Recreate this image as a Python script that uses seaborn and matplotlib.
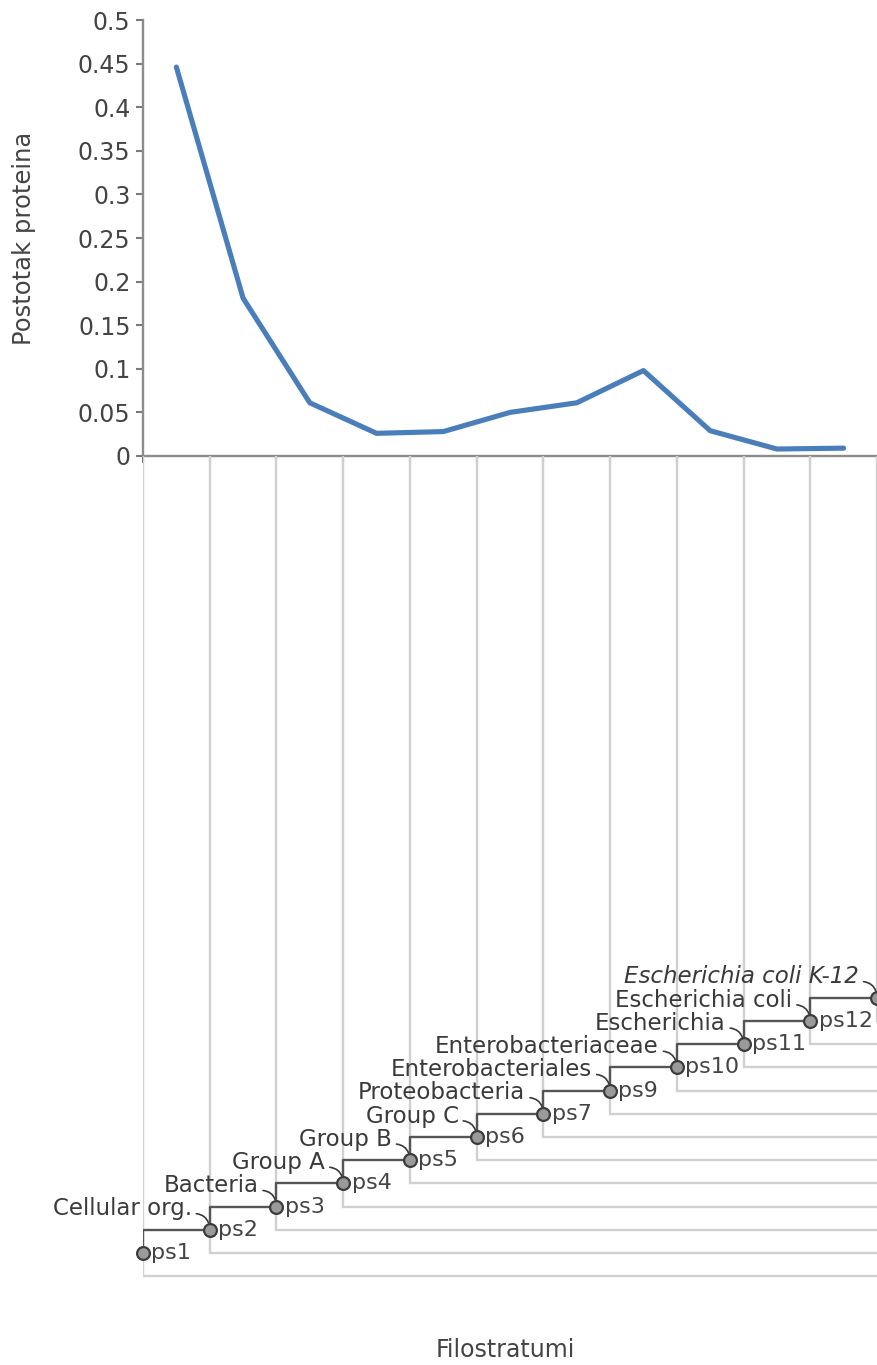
import numpy as np
import matplotlib
matplotlib.use("Agg")
import matplotlib.pyplot as plt
import seaborn as sns

# Phylostrata and the share of proteins assigned to each one
phylostrata = ["ps1", "ps2", "ps3", "ps4", "ps5", "ps6", "ps7", "ps9", "ps10", "ps11", "ps12"]
protein_share = [0.446, 0.181, 0.061, 0.026, 0.028, 0.050, 0.061, 0.098, 0.029, 0.008, 0.009]

# Clade names along the lineage, from the root towards the strain
clades = ["Cellular org.", "Bacteria", "Group A", "Group B", "Group C", "Proteobacteria",
          "Enterobacteriales", "Enterobacteriaceae", "Escherichia", "Escherichia coli",
          "Escherichia coli K-12"]

y_ticks = [0, 0.05, 0.1, 0.15, 0.2, 0.25, 0.3, 0.35, 0.4, 0.45, 0.5]

sns.set_theme(style="ticks")
plt.rcParams["font.family"] = ["DejaVu Sans"]

BLUE = "#4a7ebb"
AXIS = "#8c8c8c"
DARK = "#555555"
LIGHT = "#d0d0d0"
TEXT = "#3a3a3a"

W, H = 877, 1365
fig = plt.figure(figsize=(W / 100, H / 100), dpi=100, facecolor="white")


def px_rect(x0, y0, x1, y1):
    return [x0 / W, 1 - y1 / H, (x1 - x0) / W, (y1 - y0) / H]


n = len(phylostrata)

# ---- top panel: protein share per phylostratum ----
ax = fig.add_axes(px_rect(143, 20, 877, 456))
idx = np.arange(n)
sns.lineplot(x=idx, y=protein_share, ax=ax, color=BLUE, linewidth=3.7)
ax.set_xlim(-0.5, n - 0.5)
ax.set_ylim(0, 0.5)
ax.set_xticks(np.arange(n + 1) - 0.5)
ax.set_xticklabels([])
ax.set_yticks(y_ticks)
ax.set_yticklabels([f"{v:g}" for v in y_ticks])
ax.tick_params(axis="both", direction="out", length=5, width=1.5, color="#7a7a7a",
               labelsize=17, labelcolor="#444444", pad=4)
for side in ("top", "right"):
    ax.spines[side].set_visible(False)
for side in ("left", "bottom"):
    ax.spines[side].set_color(AXIS)
    ax.spines[side].set_linewidth(1.7)
ax.set_ylabel("Postotak proteina", fontsize=17.5, color="#444444", va="center")
ax.yaxis.set_label_coords((24 - 143) / 734, 0.5)
ax.set_xlabel("")

# ---- bottom panel: lineage staircase ----
tree = fig.add_axes(px_rect(143, 456, 877, 1300))
step_px = 23.2
tree.set_xlim(-0.5, n - 0.5)
y_low, y_high = (1253 - 1300) / step_px, (1253 - 456) / step_px
tree.set_ylim(y_low, y_high)
tree.set_xticks([])
tree.set_yticks([])
for sp in tree.spines.values():
    sp.set_visible(False)
tree.set_facecolor("none")

node_x = np.arange(n + 1) - 0.5
node_lvl = np.arange(n + 1)

# light guides dropping from each stratum boundary and running to the right
for k in range(n + 1):
    tree.plot([node_x[k], node_x[k], node_x[-1]],
              [y_high, node_lvl[k] - 1, node_lvl[k] - 1],
              color=LIGHT, lw=1.7, solid_joinstyle="miter", zorder=1)

# dark lineage path
sns.lineplot(x=node_x, y=node_lvl, ax=tree, drawstyle="steps-pre", color=DARK,
             lw=1.7, zorder=2, sort=False)

# nodes
sns.scatterplot(x=node_x, y=node_lvl, ax=tree, s=85, color="#9a9a9a",
                edgecolor="#3c3c3c", linewidth=1.6, zorder=5, clip_on=False)

# clade names with curved leaders
for k, name in enumerate(clades, start=1):
    tree.annotate(name, xy=(node_x[k], node_lvl[k]), xytext=(-13, 15),
                  textcoords="offset points", ha="right", va="center",
                  fontsize=16.5, color=TEXT,
                  style="italic" if k == len(clades) else "normal",
                  annotation_clip=False, zorder=4,
                  arrowprops=dict(arrowstyle="-", color=TEXT, lw=1.2,
                                  shrinkA=1, shrinkB=5, relpos=(1.0, 0.3),
                                  connectionstyle="arc3,rad=-0.5"))

# phylostratum tags next to nodes
for k, lab in enumerate(phylostrata):
    tree.annotate(lab, xy=(node_x[k], node_lvl[k]), xytext=(6, 0),
                  textcoords="offset points", ha="left", va="center",
                  fontsize=16, color="#444444", annotation_clip=False, zorder=4)

tree.set_xlabel("")
fig.text(505 / W, 1 - 1350 / H, "Filostratumi", fontsize=17, color="#444444",
         ha="center", va="center")

fig.savefig("out.png", dpi=100, facecolor="white")
